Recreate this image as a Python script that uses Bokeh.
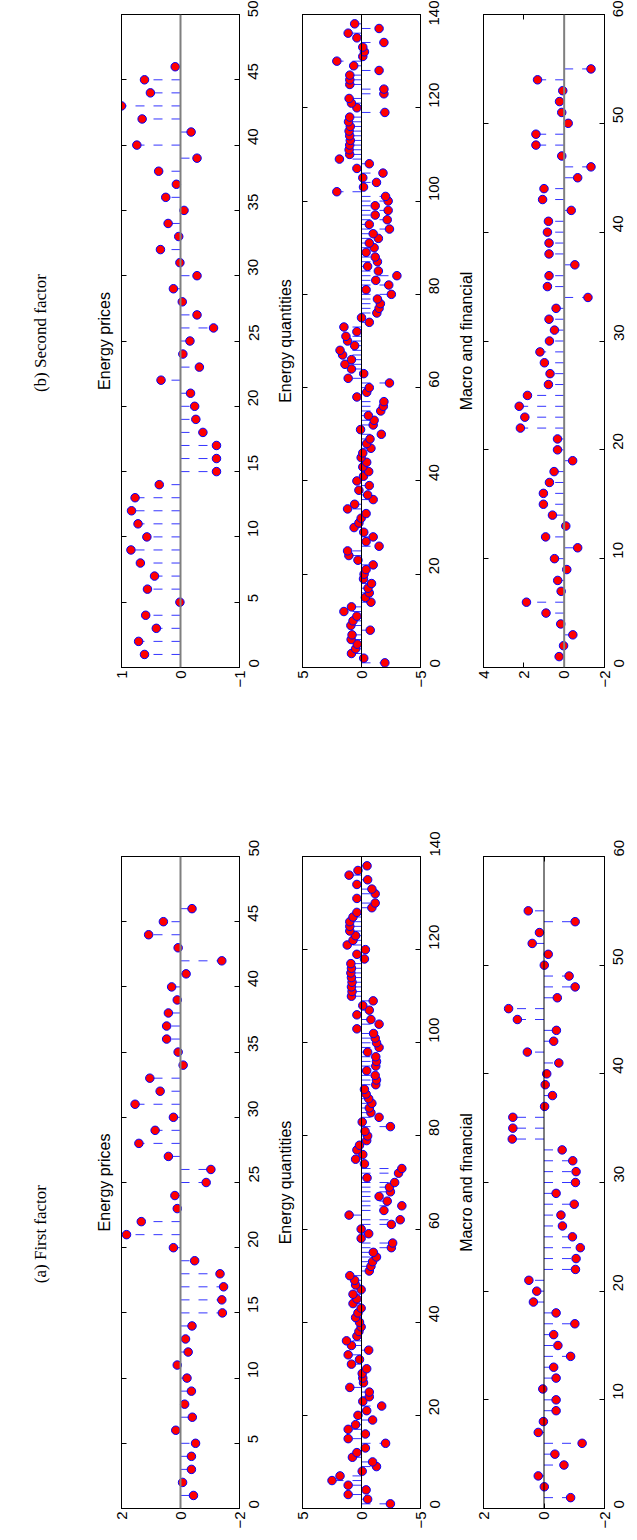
import math
from bokeh.plotting import figure
from bokeh.layouts import row, column
from bokeh.models import Range1d, LinearAxis, FixedTicker, Label, Span
from bokeh.embed import file_html
from bokeh.resources import INLINE

SANS = "Liberation Sans"
SERIF = "Liberation Serif"

# ---------------- data (index 1..N) ----------------
ep_first = [-0.44, -0.07, -0.37, -0.37, -0.51, 0.16, -0.40, -0.14, -0.37, -0.22,
            0.11, -0.26, -0.17, -0.39, -1.42, -1.40, -1.46, -1.34, -0.48, 0.24,
            1.83, 1.33, 0.11, 0.19, -0.87, -1.03, 0.41, 1.41, 0.86, 0.24,
            1.54, 0.69, 1.04, -0.09, 0.08, 0.47, 0.47, 0.41, 0.11, 0.30,
            -0.19, -1.40, 0.08, 1.08, 0.58, -0.39]

eq_first = [-2.45, -0.52, 1.13, -0.39, 1.13, 2.5, 1.82, -0.06, -1.27, -0.94,
            0.77, 0.39, -0.33, -2.04, 1.13, -0.33, 1.13, 0.5, -0.94, 0.3,
            -0.44, -1.71, -0.11, -0.66, -0.66, 0.99, -0.17, -0.11, -0.06, -0.44,
            0.85, 0.17, 1.13, -0.61, 0.85, 1.27, 0.39, 0.22, 0.03, 0.17,
            0.5, 0.3, 0.03, 0.72, 0.39, 0.72, 0.03, 0.5, 0.58, 0.99,
            -0.66, -0.8, -0.94, -1.27, -1.0, -2.53, -2.64, 0.03, -0.61, 0.03,
            -2.53, -3.28, 1.05, -1.9, -3.42, -2.18, -1.49, -2.45, -2.37, -2.81,
            -0.47, -3.14, -3.42, -0.25, 0.5, -0.11, 0.39, 0.17, -0.44, -0.52,
            -0.3, -2.45, -0.06, -1.49, -0.8, -0.66, -0.88, -0.61, -0.39, -0.25,
            -1.21, -1.27, -1.16, -0.44, -1.21, -1.27, -1.21, -0.52, -1.49, -1.27,
            -1.16, -1.02, 0.39, -1.49, -0.8, 0.39, -0.66, -0.11, -0.99, 0.85,
            0.8, 0.85, 0.8, 0.85, 0.9, 0.85, 0.9, -0.25, 0.39, -0.33,
            1.21, 0.72, 0.5, 0.99, 0.99, 0.99, 0.72, 0.39, -0.88, -1.16,
            0.39, -1.16, -0.88, 0.39, -0.52, 1.05, 0.3, -0.47]

mf_first = [-0.88, -0.01, 0.19, -0.66, -0.36, -1.26, 0.19, 0.02, -0.40, -0.40,
            0.04, -0.40, -0.32, -0.88, -0.46, -0.32, -1.02, -0.40, 0.35, 0.24,
            0.50, -1.04, -1.06, -1.20, -0.94, -0.61, -0.56, -1.00, -0.40, -1.04,
            -1.06, -0.95, -0.60, 1.05, 1.03, 1.03, -0.02, -0.28, -0.04, -0.09,
            -0.49, 0.55, -0.32, -0.41, 0.88, 1.17, -0.44, -1.03, -0.83, -0.01,
            -0.14, 0.39, 0.15, -1.03, 0.52]

ep_second = [0.61, 0.71, 0.41, 0.59, 0.01, 0.56, 0.44, 0.68, 0.84, 0.57,
             0.72, 0.83, 0.77, 0.36, -0.61, -0.61, -0.61, -0.38, -0.26, -0.24,
             -0.17, 0.33, -0.32, -0.04, -0.16, -0.56, -0.28, -0.03, 0.12, -0.28,
             0.01, 0.34, 0.03, 0.21, -0.06, 0.25, 0.07, 0.37, -0.28, 0.74,
             -0.18, 0.65, 1.0, 0.51, 0.61, 0.09]

eq_second = [-1.98, -0.19, 0.85, 0.5, 0.36, 0.88, 0.8, -0.74, 0.9, 0.72,
             0.39, 1.49, 0.85, -0.8, -0.33, -0.66, -0.55, -0.85, -0.17, -0.22,
             -0.39, -0.99, 0.3, 1.07, 1.18, -1.49, -0.39, -0.99, -0.19, 0.63,
             0.22, 0.03, -0.39, 1.18, 0.58, -0.99, -0.52, 0.22, -0.66, 0.39,
             -0.17, -0.61, -0.11, -0.44, 0.03, -0.11, -0.8, -0.44, -0.72, -1.68,
             0.08, -0.99, -1.07, -0.58, -1.63, -1.85, -1.9, 0.39, -0.44, -0.66,
             -2.37, 1.13, -0.19, 0.85, 1.4, 0.85, 1.6, 1.82, 0.58, 1.18,
             1.32, 0.39, 1.49, -0.66, 0.0, -1.3, -1.49, -1.6, -1.35, -2.53,
             -0.39, -2.31, -1.21, -3.0, -1.43, -0.52, -1.35, -1.16, -0.39, -1.07,
             -0.66, -1.43, -0.99, -2.37, -0.66, -2.18, -1.16, -2.26, -1.16, -2.26,
             -2.04, 2.09, -0.17, -1.27, -0.11, -1.82, 0.39, -0.66, 1.87, 1.0,
             1.05, 1.0, 0.95, 1.0, 1.05, 0.95, 1.1, 1.0, -1.98, 0.39,
             0.85, 1.05, -1.9, -1.9, 0.99, 0.99, 0.99, -1.49, 0.66, 2.09,
             -0.11, -0.25, -0.11, -1.9, 0.39, 1.13, -1.49, 0.58]

mf_second = [0.25, 0.03, -0.43, 0.17, 0.9, 1.87, 0.15, 0.32, -0.13, 0.48,
             -0.67, 0.92, -0.08, 0.58, 1.03, 1.03, 0.73, 0.5, -0.42, 0.33,
             0.33, 2.17, 1.95, 2.23, 1.82, 0.78, 0.70, 0.98, 1.2, 0.73,
             0.48, 0.75, 0.4, -1.18, 0.83, 0.75, -0.53, 0.75, 0.75, 0.83,
             0.78, -0.35, 1.07, 1.0, -0.67, -1.33, 0.12, 1.4, 1.4, -0.2,
             0.12, 0.23, 0.07, 1.32, -1.33]

panel_titles = ["Energy prices", "Energy quantities", "Macro and financial"]
factor_titles = ["(a) First factor", "(b) Second factor"]
index_max = [50, 140, 60]
index_ticks = [[0, 5, 10, 15, 20, 25, 30, 35, 40, 45, 50],
               [0, 20, 40, 60, 80, 100, 120, 140],
               [0, 10, 20, 30, 40, 50, 60]]
value_ticks_first = [[-2, 0, 2], [-5, 0, 5], [-2, 0, 2]]
value_ticks_second = [[-1, 0, 1], [-5, 0, 5], [-2, 0, 2, 4]]
zero_gray_first = [True, False, False]
zero_gray_second = [True, False, True]

FRAME_W = 121
FRAME_H = 653
LEFT_B = 36
TICK_FS = "15px"
ROT = math.pi / 2


def minus(t):
    return str(t).replace("-", "\u2212")


def make_panel(title, vals, vticks, imax, iticks, gray, top, bottom, right):
    idx = list(range(1, len(vals) + 1))
    vmin, vmax = min(vticks), max(vticks)
    p = figure(width=LEFT_B + FRAME_W + right, height=top + FRAME_H + bottom,
               x_range=Range1d(vmax, vmin), y_range=Range1d(0, imax),
               min_border_left=LEFT_B, min_border_right=right,
               min_border_top=top, min_border_bottom=bottom,
               y_axis_location="right", x_axis_location="below",
               toolbar_location=None, output_backend="svg",
               title=title, title_location="left")
    p.title.text_font = SANS
    p.title.text_font_size = "16px"
    p.title.text_font_style = "normal"
    p.title.text_color = "black"
    p.title.align = "center"
    p.title.standoff = 17
    p.grid.visible = False
    p.outline_line_color = "black"
    p.outline_line_width = 1
    p.background_fill_color = "white"
    p.border_fill_color = "white"

    # zero line
    if gray:
        p.add_layout(Span(location=0, dimension="height", line_color="#7f7f7f", line_width=2))
    else:
        p.add_layout(Span(location=0, dimension="height", line_color="black", line_width=1))

    # stems and heads
    p.segment(x0=[0] * len(vals), y0=idx, x1=vals, y1=idx,
              line_color="#0000ff", line_alpha=0.8, line_width=1, line_dash="9 9")
    p.scatter(x=vals, y=idx, size=8.5, marker="circle",
              fill_color="#ff0000", line_color="#0000ff", line_width=1)

    # value axis (bottom)
    xa = p.xaxis[0]
    xa.ticker = FixedTicker(ticks=vticks)
    xa.major_label_overrides = {t: minus(t) for t in vticks}
    xa.major_label_orientation = ROT
    xa.major_tick_in = 5
    xa.major_tick_out = 0
    xa.minor_tick_line_color = None
    xa.axis_line_color = "black"
    xa.major_tick_line_color = "black"
    xa.major_label_text_font = SANS
    xa.major_label_text_font_size = TICK_FS
    xa.major_label_text_color = "black"
    xa.major_label_standoff = 3

    # index axis (right)
    ya = p.yaxis[0]
    ya.ticker = FixedTicker(ticks=iticks)
    ya.major_label_orientation = ROT
    ya.major_tick_in = 5
    ya.major_tick_out = 0
    ya.minor_tick_line_color = None
    ya.axis_line_color = "black"
    ya.major_tick_line_color = "black"
    ya.major_label_text_font = SANS
    ya.major_label_text_font_size = TICK_FS
    ya.major_label_text_color = "black"
    ya.major_label_standoff = 14

    # mirrored ticks (no labels)
    top_ax = LinearAxis(ticker=FixedTicker(ticks=vticks), major_tick_in=5, major_tick_out=0,
                        minor_tick_line_color=None, major_label_text_font_size="0px",
                        major_label_text_color=None, major_label_standoff=0,
                        axis_line_color="black")
    p.add_layout(top_ax, "above")
    left_ax = LinearAxis(ticker=FixedTicker(ticks=iticks), major_tick_in=5, major_tick_out=0,
                         minor_tick_line_color=None, major_label_text_font_size="0px",
                         major_label_text_color=None, major_label_standoff=0,
                         axis_line_color="black")
    p.add_layout(left_ax, "left")
    return p


# page geometry (the page is drawn without margin)
B_FRAME_TOP = 14
A_FRAME_TOP = 856
LABEL_W = 121 - LEFT_B          # first frame starts at x = 121
GAP = 60                        # distance between neighbouring frames


def label_fig(text, h, yc):
    p = figure(width=LABEL_W, height=h, x_range=Range1d(0, LABEL_W), y_range=Range1d(0, h),
               min_border=0, toolbar_location=None, output_backend="svg",
               x_axis_location=None, y_axis_location=None, title=None)
    p.grid.visible = False
    p.outline_line_color = None
    p.add_layout(Label(x=40, y=yc, text=text, angle=math.pi / 2,
                       text_align="center", text_baseline="middle",
                       text_font=SERIF, text_font_size="17px", text_color="black"))
    return p


TOP_B, BOT_B = B_FRAME_TOP, 30
H_B = TOP_B + FRAME_H + BOT_B
TOP_A = A_FRAME_TOP - H_B
BOT_A = 22
H_A = TOP_A + FRAME_H + BOT_A

second = [ep_second, eq_second, mf_second]
first = [ep_first, eq_first, mf_first]

row_b = [label_fig(factor_titles[1], H_B, H_B - 340)]
row_a = [label_fig(factor_titles[0], H_A, H_A - (1180 - H_B))]
for k in range(3):
    right = GAP - LEFT_B if k < 2 else 32
    row_b.append(make_panel(panel_titles[k], second[k], value_ticks_second[k], index_max[k],
                            index_ticks[k], zero_gray_second[k], TOP_B, BOT_B, right))
    row_a.append(make_panel(panel_titles[k], first[k], value_ticks_first[k], index_max[k],
                            index_ticks[k], zero_gray_first[k], TOP_A, BOT_A, right))

layout = column(row(*row_b), row(*row_a))
open("out.html", "w").write(file_html(layout, INLINE))
